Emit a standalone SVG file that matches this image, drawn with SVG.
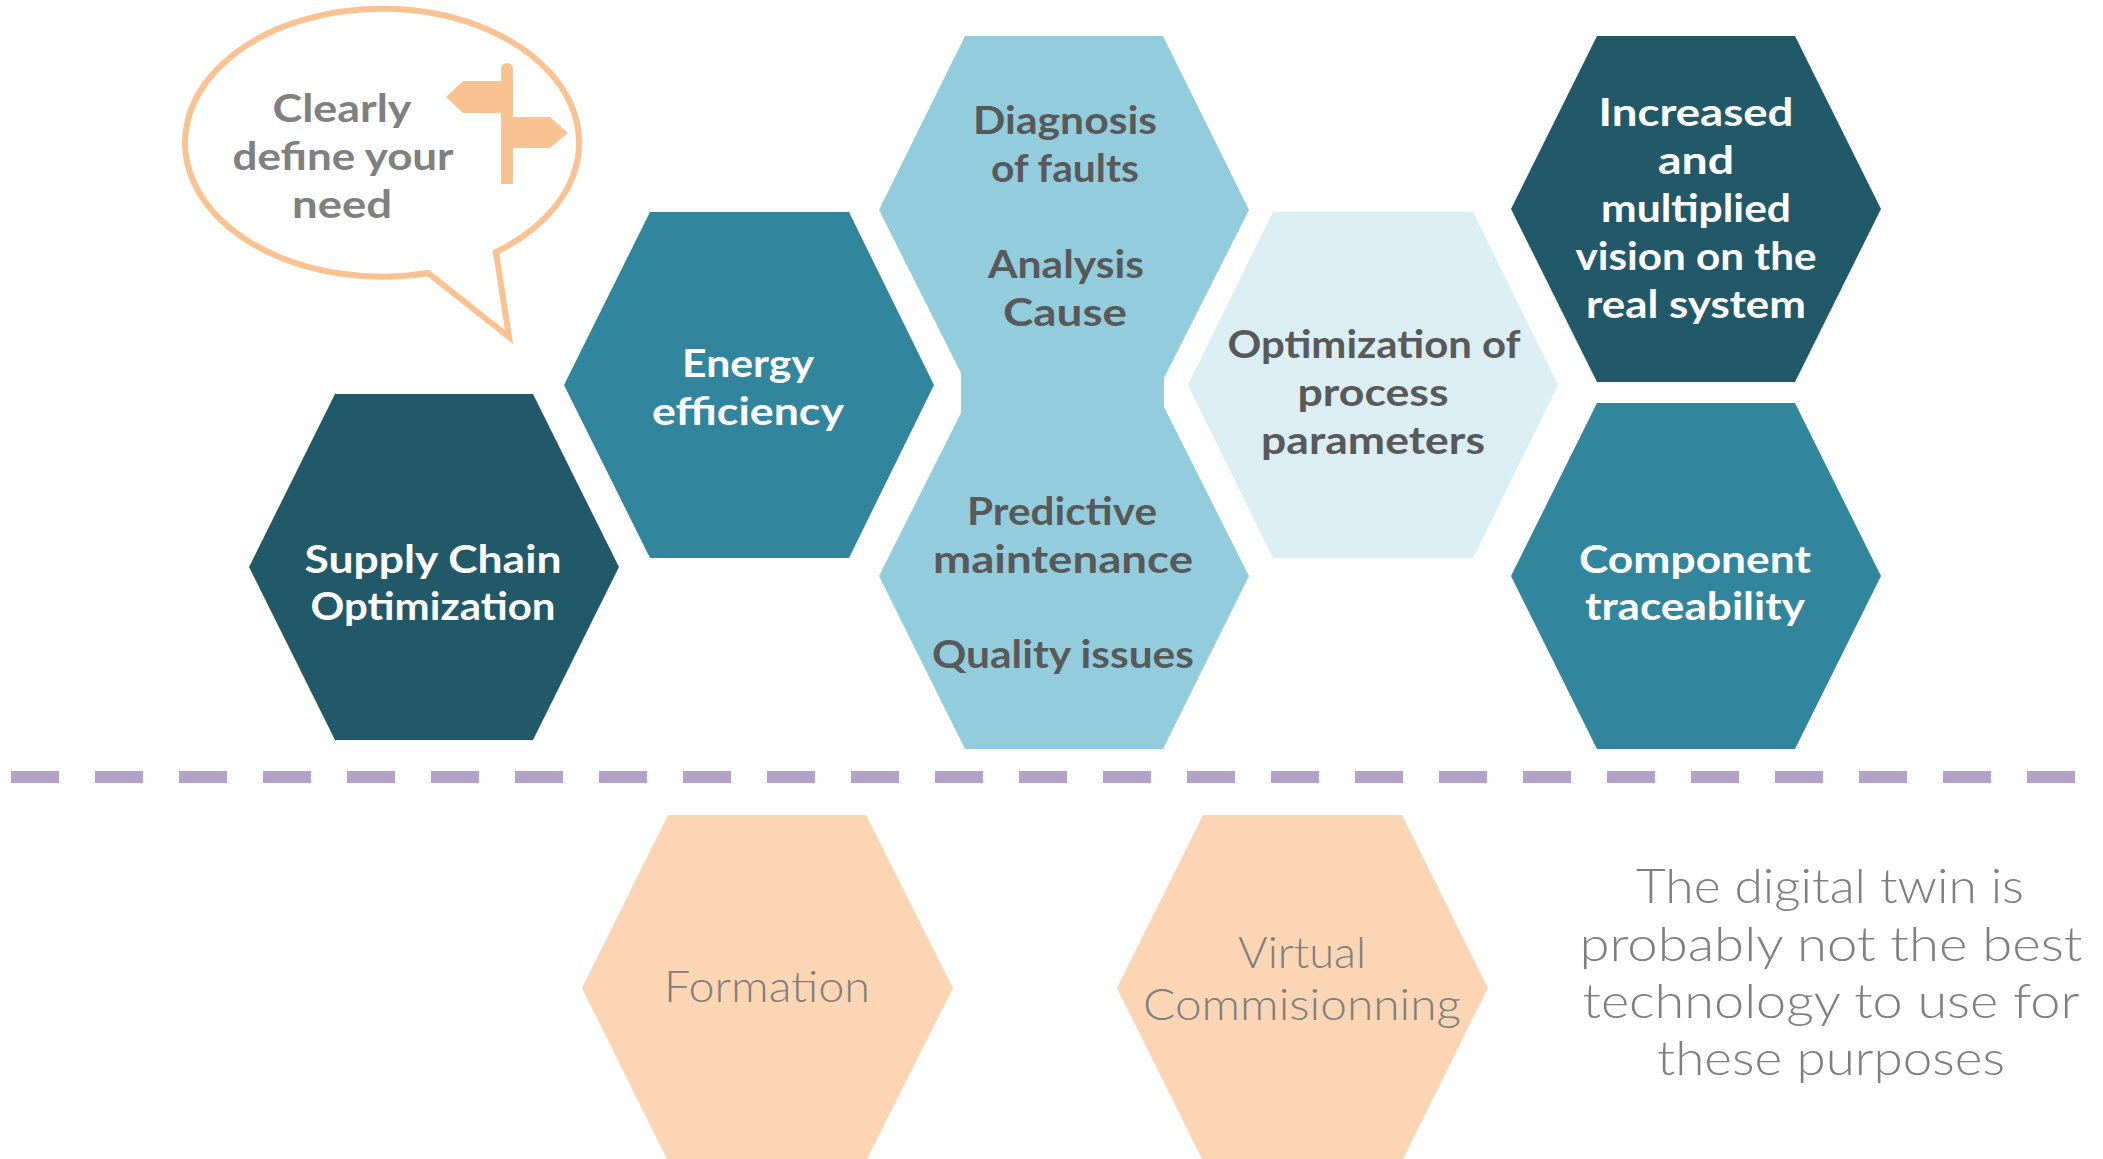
<svg xmlns="http://www.w3.org/2000/svg" width="2103" height="1159" viewBox="0 0 2103 1159">
<defs>
<style>
text{font-family:"Lato","Open Sans","Liberation Sans",sans-serif;text-anchor:middle}
.b{font-size:39px;font-weight:700}
.l{font-size:47px;font-weight:300;fill:#7f7f7f}
.m{font-size:44px;font-weight:300;fill:#7f7f7f}
.w{fill:#fff}.g{fill:#595959}.y{fill:#808080}
.dark{fill:#215968}.mid{fill:#31859c}.light{fill:#93cddd}.pale{fill:#dbeef4}.peach{fill:#fcd5b5}
.sign{fill:#fbc291}
</style>
</defs>
<rect width="2103" height="1159" fill="#fff"/>
<g id="connectors">
<line x1="11" y1="777" x2="2075" y2="777" stroke="#b3a2c7" stroke-width="12" stroke-dasharray="48 36"/>
</g>
<g id="callout">
<path d="M496 252A197 134 0 1 0 428 273L509 337Z" fill="#fff" stroke="#fbc291" stroke-width="6"/>
<path class="sign" d="M501 69a6 6 0 0 1 12 0V117H550L568 133L550 148H513V184H501V113H463L446 97L463 81H501Z"/>
<text class="b y" x="342" y="122" textLength="139" lengthAdjust="spacingAndGlyphs">Clearly</text>
<text class="b y" x="343" y="170" textLength="221" lengthAdjust="spacingAndGlyphs">define your</text>
<text class="b y" x="342" y="218" textLength="100" lengthAdjust="spacingAndGlyphs">need</text>
</g>
<g id="supply-chain">
<polygon class="dark" points="335,394 533,394 619,567 533,740 335,740 249,567"/>
<text class="b w" x="433" y="573" textLength="257" lengthAdjust="spacingAndGlyphs">Supply Chain</text>
<text class="b w" x="433" y="620" textLength="245" lengthAdjust="spacingAndGlyphs">Optimization</text>
</g>
<g id="energy">
<polygon class="mid" points="650,212 849,212 934,385 849,558 650,558 564,385"/>
<text class="b w" x="748" y="377" textLength="132" lengthAdjust="spacingAndGlyphs">Energy</text>
<text class="b w" x="748" y="425" textLength="192" lengthAdjust="spacingAndGlyphs">efficiency</text>
</g>
<g id="diagnosis-predictive">
<polygon class="light" points="965,36 1163,36 1249,210 1164,378 1164,407 1249,576 1163,749 965,749 879,576 961,413 961,373 879,210"/>
<text class="b g" x="1065" y="134" textLength="184" lengthAdjust="spacingAndGlyphs">Diagnosis</text>
<text class="b g" x="1065" y="182" textLength="148" lengthAdjust="spacingAndGlyphs">of faults</text>
<text class="b g" x="1066" y="278" textLength="156" lengthAdjust="spacingAndGlyphs">Analysis</text>
<text class="b g" x="1065" y="326" textLength="124" lengthAdjust="spacingAndGlyphs">Cause</text>
<text class="b g" x="1062" y="525" textLength="190" lengthAdjust="spacingAndGlyphs">Predictive</text>
<text class="b g" x="1063" y="573" textLength="260" lengthAdjust="spacingAndGlyphs">maintenance</text>
<text class="b g" x="1063" y="668" textLength="262" lengthAdjust="spacingAndGlyphs">Quality issues</text>
</g>
<g id="optimization">
<polygon class="pale" points="1273,212 1473,212 1558,385 1473,558 1273,558 1188,385"/>
<text class="b g" x="1374" y="358" textLength="293" lengthAdjust="spacingAndGlyphs">Optimization of</text>
<text class="b g" x="1373" y="406" textLength="151" lengthAdjust="spacingAndGlyphs">process</text>
<text class="b g" x="1373" y="454" textLength="224" lengthAdjust="spacingAndGlyphs">parameters</text>
</g>
<g id="increased">
<polygon class="dark" points="1597,36 1795,36 1881,209 1795,382 1597,382 1511,209"/>
<text class="b w" x="1696" y="126" textLength="195" lengthAdjust="spacingAndGlyphs">Increased</text>
<text class="b w" x="1696" y="174" textLength="76" lengthAdjust="spacingAndGlyphs">and</text>
<text class="b w" x="1696" y="222" textLength="190" lengthAdjust="spacingAndGlyphs">multiplied</text>
<text class="b w" x="1696" y="270" textLength="241" lengthAdjust="spacingAndGlyphs">vision on the</text>
<text class="b w" x="1696" y="318" textLength="220" lengthAdjust="spacingAndGlyphs">real system</text>
</g>
<g id="component">
<polygon class="mid" points="1597,403 1795,403 1881,576 1795,749 1597,749 1511,576"/>
<text class="b w" x="1695" y="573" textLength="232" lengthAdjust="spacingAndGlyphs">Component</text>
<text class="b w" x="1695" y="620" textLength="220" lengthAdjust="spacingAndGlyphs">traceability</text>
</g>
<g id="formation">
<polygon class="peach" points="668,815 866,815 953,988 866,1161 668,1161 582,988"/>
<text class="m" x="767" y="1002" textLength="206" lengthAdjust="spacingAndGlyphs">Formation</text>
</g>
<g id="virtual-commissioning">
<polygon class="peach" points="1203,815 1402,815 1488,988 1402,1161 1203,1161 1117,988"/>
<text class="m" x="1302" y="968" textLength="128" lengthAdjust="spacingAndGlyphs">Virtual</text>
<text class="m" x="1302" y="1020" textLength="318" lengthAdjust="spacingAndGlyphs">Commisionning</text>
</g>
<g id="note">
<text class="l" x="1830" y="903" textLength="388" lengthAdjust="spacingAndGlyphs">The digital twin is</text>
<text class="l" x="1831" y="961" textLength="503" lengthAdjust="spacingAndGlyphs">probably not the best</text>
<text class="l" x="1831" y="1018" textLength="497" lengthAdjust="spacingAndGlyphs">technology to use for</text>
<text class="l" x="1831" y="1075" textLength="348" lengthAdjust="spacingAndGlyphs">these purposes</text>
</g>
</svg>
